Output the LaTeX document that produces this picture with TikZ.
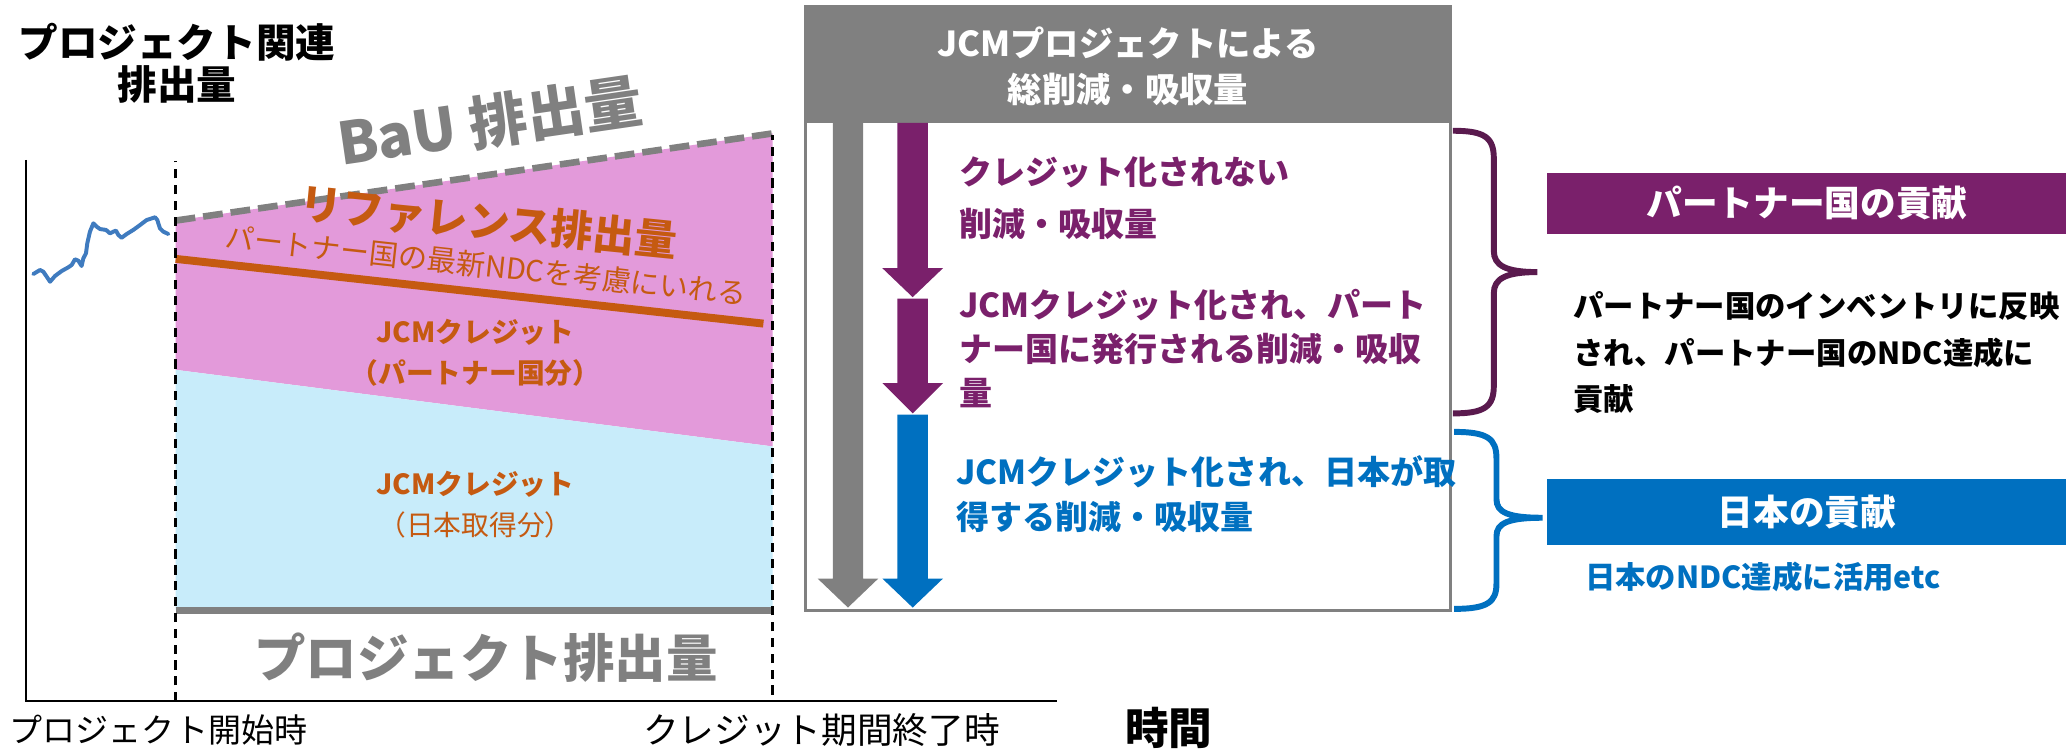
\documentclass[tikz,border=0pt]{standalone}
\usepackage{fontspec}
\setmainfont{Noto Sans CJK JP}
\usepackage{tikz}

\newcommand{\fsz}[2]{\fontsize{#1}{#2}\selectfont}

\definecolor{jcmgray}{HTML}{808080}
\definecolor{jcmpurple}{HTML}{7A206B}
\definecolor{bracepurple}{HTML}{5A1A4E}
\definecolor{jcmblue}{HTML}{0070C0}
\definecolor{reforange}{HTML}{C55A11}
\definecolor{partnerpink}{HTML}{E39ADA}
\definecolor{japanblue}{HTML}{C8ECFA}
\definecolor{histblue}{HTML}{3F7BBF}

\tikzset{
	axisline/.style={line width=1.6pt},
	period/.style={line width=2pt, dash pattern=on 7pt off 5pt},
	bauline/.style={jcmgray, line width=5pt, dash pattern=on 15pt off 6pt},
	refline/.style={reforange, line width=6pt},
	prjline/.style={jcmgray, line width=5pt},
	bracep/.style={line width=4.5pt, line cap=butt},
	lbl/.style={inner sep=0pt},
	tag/.style={lbl, text=white, font=\bfseries\fsz{27}{30}, minimum width=393pt}
}

\begin{document}
\begin{tikzpicture}[x=1pt, y=-1pt]

	\useasboundingbox (0,0) rectangle (1568,567);

	% chart
	\coordinate (s0) at (133,531);
	\coordinate (s1) at (133,122);
	\coordinate (e0) at (585,526);
	\coordinate (e1) at (585,102);
	\coordinate (bau0) at (133,167);
	\coordinate (bau1) at (585,101);
	\coordinate (ref0) at (133,196);
	\coordinate (ref1) at (578,245);
	\coordinate (prj0) at (133,462);
	\coordinate (prj1) at (585,462);
	\coordinate (ax0) at (20,121);
	\coordinate (ax1) at (20,531);
	\coordinate (ax2) at (800,531);

	\fill[partnerpink] (bau0) -- (bau1) -- (585,338) -- (133,280) -- cycle;
	\fill[japanblue] (133,280) -- (585,338) -- (prj1) -- (prj0) -- cycle;

	\draw[axisline] (ax0) -- (ax1) -- (ax2);
	\draw[prjline] (prj0) -- (prj1);
	\draw[refline] (ref0) -- (ref1);
	\draw[bauline] (bau0) -- (bau1);
	\draw[period] (s0) -- (s1);
	\draw[period] (e0) -- (e1);

	\draw[histblue, line width=3pt, line join=round, line cap=round] plot coordinates {
		(25.2,207.5) (30.3,204.4) (32.8,205.7) (37.9,213.3) (41.6,209) (46.7,205.2)
		(51.7,202.4) (54.3,200.6) (56.8,196.3) (59.3,197.4) (61.8,201.4) (63.1,195.6)
		(65.1,191.8) (66.1,184.2) (68.1,175.4) (70.7,169.1) (73.2,171.6) (75.7,173.4)
		(80.3,174.1) (83.3,176.7) (85.8,175.4) (87.8,174.6) (89.6,177.9) (92.1,180)
		(95.9,177.2) (100.9,174.1) (106,170.4) (111,166.6) (117.4,164.5) (119.1,166.6)
		(121.1,172.9) (123.7,175.4) (127.5,177.2)};

	\node[lbl, font=\bfseries\fsz{30}{32}, align=center] (ttl) at (134,48) {プロジェクト関連\\排出量};
	\node[lbl, font=\bfseries\fsz{44}{46}, text=jcmgray, rotate=8.3] (bau) at (371,92) {BaU 排出量};
	\node[lbl, font=\bfseries\fsz{32}{34}, text=reforange, rotate=-5.7] (ref) at (370,168) {リファレンス排出量};
	\node[lbl, font=\fsz{22}{24}, text=reforange, rotate=-6.3] (ndc) at (368,201) {パートナー国の最新NDCを考慮にいれる};
	\node[lbl, font=\bfseries\fsz{21}{31}, text=reforange, align=center] (pcr) at (360,267) {JCMクレジット\\（パートナー国分）};
	\node[lbl, font=\fsz{21}{31}, text=reforange, align=center] (jcr) at (360,382) {\textbf{JCMクレジット}\\（日本取得分）};
	\node[lbl, font=\bfseries\fsz{39}{41}, text=jcmgray] (prj) at (368,498) {プロジェクト排出量};
	\node[lbl, font=\fsz{25}{27}] (t0) at (120,553) {プロジェクト開始時};
	\node[lbl, font=\fsz{27}{29}] (t1) at (622,553) {クレジット期間終了時};
	\node[lbl, font=\bfseries\fsz{33}{35}] (tm) at (885,551) {時間};

	% total reductions box
	\draw[jcmgray, line width=2.5pt] (610,5) rectangle (1098,462);
	\fill[jcmgray] (610,5) rectangle (1098,93);
	\node[lbl, font=\bfseries\fsz{26}{35}, text=white, align=center] (hdr) at (854,50) {JCMプロジェクトによる\\総削減・吸収量};

	\foreach \xa / \ya / \yb / \yc / \cola in {
		642/93/438/460/jcmgray,
		691/93/203/225/jcmpurple,
		691/226/290/313/jcmpurple,
		691/314/438/460/jcmblue}
	{
		\fill[\cola] (\xa-11.5,\ya) -- (\xa+11.5,\ya) -- (\xa+11.5,\yb) -- (\xa+23,\yb)
			-- (\xa,\yc) -- (\xa-23,\yb) -- (\xa-11.5,\yb) -- cycle;
	};

	\node[lbl, anchor=west, align=left, font=\bfseries\fsz{25}{40}, text=jcmpurple] (nc) at (726,150) {クレジット化されない\\削減・吸収量};
	\node[lbl, anchor=west, align=left, font=\bfseries\fsz{25}{33.5}, text=jcmpurple] (pc) at (726,264) {JCMクレジット化され、パート\\ナー国に発行される削減・吸収\\量};
	\node[lbl, anchor=west, align=left, font=\bfseries\fsz{25}{34}, text=jcmblue] (jc) at (724,374) {JCMクレジット化され、日本が取\\得する削減・吸収量};

	% contributions
	\draw[bracep, bracepurple] (1100,99) .. controls (1124,99) and (1131,104) .. (1131,120) -- (1131,190)
		.. controls (1131,201) and (1140,206) .. (1164,206) .. controls (1140,206) and (1131,211) .. (1131,222)
		-- (1131,292) .. controls (1131,308) and (1124,313) .. (1100,313);
	\draw[bracep, jcmblue] (1101,327) .. controls (1126,327) and (1133,332) .. (1133,347) -- (1133,378)
		.. controls (1133,388) and (1142,392) .. (1168,392) .. controls (1142,392) and (1133,396) .. (1133,406)
		-- (1133,442) .. controls (1133,456) and (1126,461) .. (1101,461);

	\node[tag, fill=jcmpurple, minimum height=46pt] (pbox) at (1368,154) {パートナー国の貢献};
	\node[lbl, anchor=west, align=left, font=\bfseries\fsz{23}{35}] (ptxt) at (1191,267) {パートナー国のインベントリに反映\\され、パートナー国のNDC達成に\\貢献};
	\node[tag, fill=jcmblue, minimum height=50pt] (jbox) at (1368,388) {日本の貢献};
	\node[lbl, anchor=west, font=\bfseries\fsz{23}{25}, text=jcmblue] (jtxt) at (1200,437) {日本のNDC達成に活用etc};

\end{tikzpicture}
\end{document}
